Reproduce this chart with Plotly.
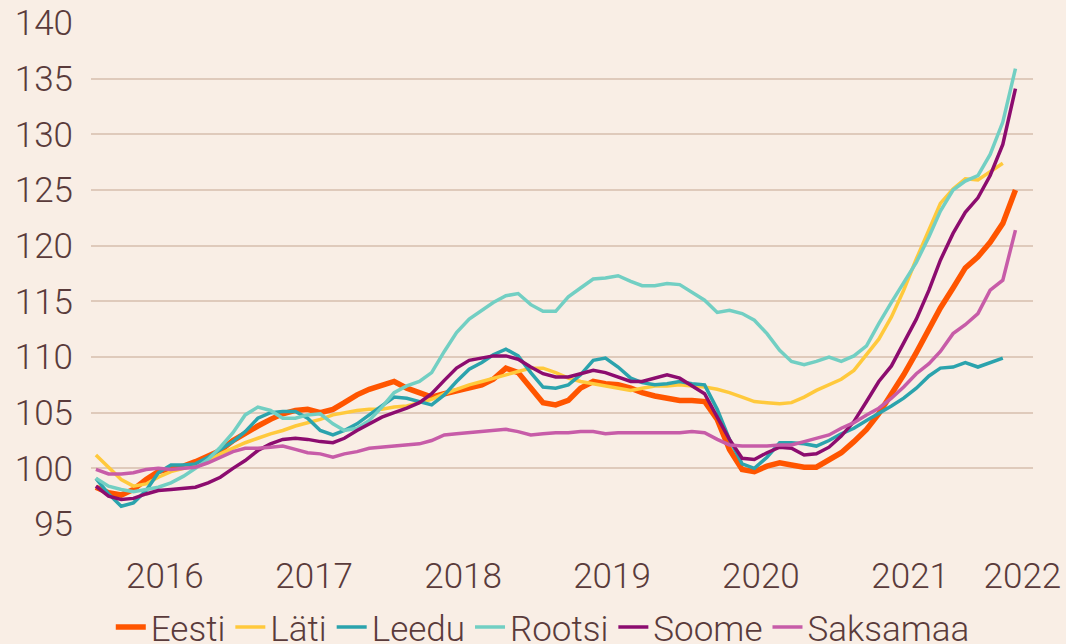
import pandas as pd
import plotly.graph_objects as go

# Monthly observations, Jul 2015 – Sep 2021
months = pd.date_range("2015-07-01", periods=75, freq="MS")

eesti = [98.3, 97.8, 97.6, 98.1, 99.0, 99.7, 100.0, 100.2, 100.6, 101.1,
         101.6, 102.5, 103.2, 103.8, 104.4, 104.9, 105.2, 105.3, 105.0, 105.3,
         105.9, 106.6, 107.1, 107.5, 107.8, 107.2, 106.8, 106.4, 106.7, 107.0,
         107.2, 107.5, 108.0, 109.0, 108.6, 107.2, 105.9, 105.7, 106.1, 107.2,
         107.8, 107.6, 107.5, 107.2, 106.8, 106.5, 106.3, 106.1, 106.1, 106.0,
         104.4, 101.7, 99.9, 99.7, 100.2, 100.5, 100.3, 100.1, 100.1, 100.8,
         101.4, 102.4, 103.5, 104.9, 106.6, 108.4, 110.4, 112.5, 114.4, 116.2,
         118.0, 119.0, 120.3, 122.0, 125.0]

lati = [101.2, 100.1, 99.0, 98.4, 98.6, 99.2, 99.7, 100.0, 100.3, 100.7,
        101.3, 101.8, 102.3, 102.7, 103.1, 103.4, 103.8, 104.1, 104.4, 104.8,
        105.0, 105.2, 105.3, 105.3, 105.5, 105.6, 105.9, 106.2, 106.7, 107.1,
        107.5, 107.8, 108.1, 108.4, 108.7, 109.0, 109.0, 108.6, 108.1, 107.8,
        107.6, 107.4, 107.2, 107.0, 107.2, 107.4, 107.4, 107.5, 107.4, 107.3,
        107.1, 106.8, 106.4, 106.0, 105.9, 105.8, 105.9, 106.4, 107.0, 107.5,
        108.0, 108.8, 110.2, 111.6, 113.6, 116.0, 118.8, 121.5, 123.8, 125.1,
        126.0, 125.9, 126.6, 127.4]

leedu = [99.1, 97.7, 96.6, 96.9, 98.0, 99.6, 100.3, 100.3, 100.4, 101.0,
         101.7, 102.4, 103.3, 104.5, 105.0, 105.1, 105.1, 104.5, 103.4, 103.0,
         103.4, 104.0, 104.8, 105.6, 106.4, 106.3, 106.0, 105.7, 106.6, 107.8,
         108.9, 109.5, 110.2, 110.7, 110.1, 108.6, 107.3, 107.2, 107.5, 108.4,
         109.7, 109.9, 109.1, 108.1, 107.7, 107.5, 107.6, 107.8, 107.6, 107.5,
         105.3, 102.6, 100.4, 100.0, 101.0, 102.3, 102.3, 102.2, 102.0, 102.5,
         103.1, 103.6, 104.3, 104.9, 105.6, 106.3, 107.2, 108.3, 109.0, 109.1,
         109.5, 109.1, 109.5, 109.9]

rootsi = [99.1, 98.4, 98.1, 97.9, 98.1, 98.3, 98.7, 99.3, 100.0, 100.8,
          101.9, 103.2, 104.8, 105.5, 105.2, 104.5, 104.5, 104.8, 104.9, 104.0,
          103.4, 103.6, 104.3, 105.5, 106.8, 107.4, 107.8, 108.6, 110.5, 112.2,
          113.4, 114.2, 114.9, 115.5, 115.7, 114.7, 114.1, 114.1, 115.4, 116.2,
          117.0, 117.1, 117.3, 116.8, 116.4, 116.4, 116.6, 116.5, 115.8, 115.1,
          114.0, 114.2, 113.9, 113.3, 112.1, 110.6, 109.6, 109.3, 109.6, 110.0,
          109.6, 110.1, 111.0, 113.0, 114.9, 116.7, 118.5, 120.8, 123.1, 125.0,
          125.8, 126.3, 128.2, 131.1, 135.9]

soome = [98.4, 97.5, 97.2, 97.3, 97.7, 98.0, 98.1, 98.2, 98.3, 98.7,
         99.2, 100.0, 100.7, 101.6, 102.2, 102.6, 102.7, 102.6, 102.4, 102.3,
         102.7, 103.4, 104.0, 104.6, 105.0, 105.4, 105.9, 106.7, 107.9, 109.0,
         109.7, 109.9, 110.1, 110.1, 109.8, 109.1, 108.5, 108.2, 108.2, 108.5,
         108.8, 108.6, 108.2, 107.8, 107.8, 108.1, 108.4, 108.1, 107.4, 106.7,
         104.6, 102.6, 100.9, 100.8, 101.4, 101.9, 101.8, 101.2, 101.3, 101.9,
         102.9, 104.2, 106.0, 107.8, 109.2, 111.2, 113.4, 116.0, 118.7, 121.1,
         123.0, 124.3, 126.3, 129.1, 134.1]

saksamaa = [99.9, 99.5, 99.5, 99.6, 99.9, 100.0, 99.9, 100.0, 100.1, 100.5,
            101.0, 101.5, 101.8, 101.8, 101.9, 102.0, 101.7, 101.4, 101.3, 101.0,
            101.3, 101.5, 101.8, 101.9, 102.0, 102.1, 102.2, 102.5, 103.0, 103.1,
            103.2, 103.3, 103.4, 103.5, 103.3, 103.0, 103.1, 103.2, 103.2, 103.3,
            103.3, 103.1, 103.2, 103.2, 103.2, 103.2, 103.2, 103.2, 103.3, 103.2,
            102.6, 102.1, 102.0, 102.0, 102.0, 102.1, 102.1, 102.4, 102.7, 103.0,
            103.6, 104.1, 104.8, 105.4, 106.3, 107.3, 108.5, 109.4, 110.5, 112.1,
            112.9, 113.9, 116.0, 116.9, 121.4]

series_names = ["Eesti", "Läti", "Leedu", "Rootsi", "Soome", "Saksamaa"]
series_values = [eesti, lati, leedu, rootsi, soome, saksamaa]
series_colors = ["#ff5500", "#ffc93c", "#2ba3ad", "#72cfc3", "#8c0c6f", "#c75ca8"]
series_widths = [5.5, 3.5, 3.5, 3.5, 3.5, 3.5]

year_labels = ["2016", "2017", "2018", "2019", "2020", "2021", "2022"]
year_tick_pos = ["2015-12-17", "2016-12-17", "2017-12-17", "2018-12-17",
                 "2019-12-17", "2020-12-17", "2021-09-18"]

BG = "#f9eee5"
TXT = "#5a3b3b"
GRID = "#dfcabb"
FONT = "Roboto"

fig = go.Figure()
for name, vals, col, w in zip(series_names, series_values, series_colors, series_widths):
    fig.add_trace(go.Scatter(
        x=months[:len(vals)], y=vals, name=name, mode="lines",
        line=dict(color=col, width=w),
    ))

fig.update_layout(
    width=1066, height=644,
    paper_bgcolor=BG, plot_bgcolor=BG,
    margin=dict(l=91, r=33, t=23, b=120, autoexpand=False),
    font=dict(family=FONT, size=35, color=TXT, weight=300),
    showlegend=True,
    legend=dict(
        orientation="h", x=0.021, xanchor="left",
        yref="container", y=0.026, yanchor="middle",
        font=dict(size=35, color=TXT, family=FONT, weight=300),
        bgcolor="rgba(0,0,0,0)", itemwidth=30, tracegroupgap=0,
    ),
    xaxis=dict(
        type="date", range=["2015-06-19", "2021-10-14"],
        tickmode="array", tickvals=year_tick_pos, ticktext=year_labels,
        showgrid=False, zeroline=False, showline=False, automargin=False,
        ticks="outside", ticklen=21, tickcolor="rgba(0,0,0,0)",
        tickfont=dict(size=35, color=TXT, family=FONT, weight=300),
    ),
    yaxis=dict(
        range=[95, 140], tickmode="linear", tick0=95, dtick=5,
        showgrid=True, gridcolor=GRID, gridwidth=2, automargin=False,
        zeroline=False, showline=False,
        ticks="outside", ticklen=10, tickcolor="rgba(0,0,0,0)",
        tickfont=dict(size=35, color=TXT, family=FONT, weight=300),
    ),
)

fig.write_html(
    "out.html",
    config={"displayModeBar": False},
    post_script="document.body.style.margin='0';document.body.style.overflow='hidden';",
)
